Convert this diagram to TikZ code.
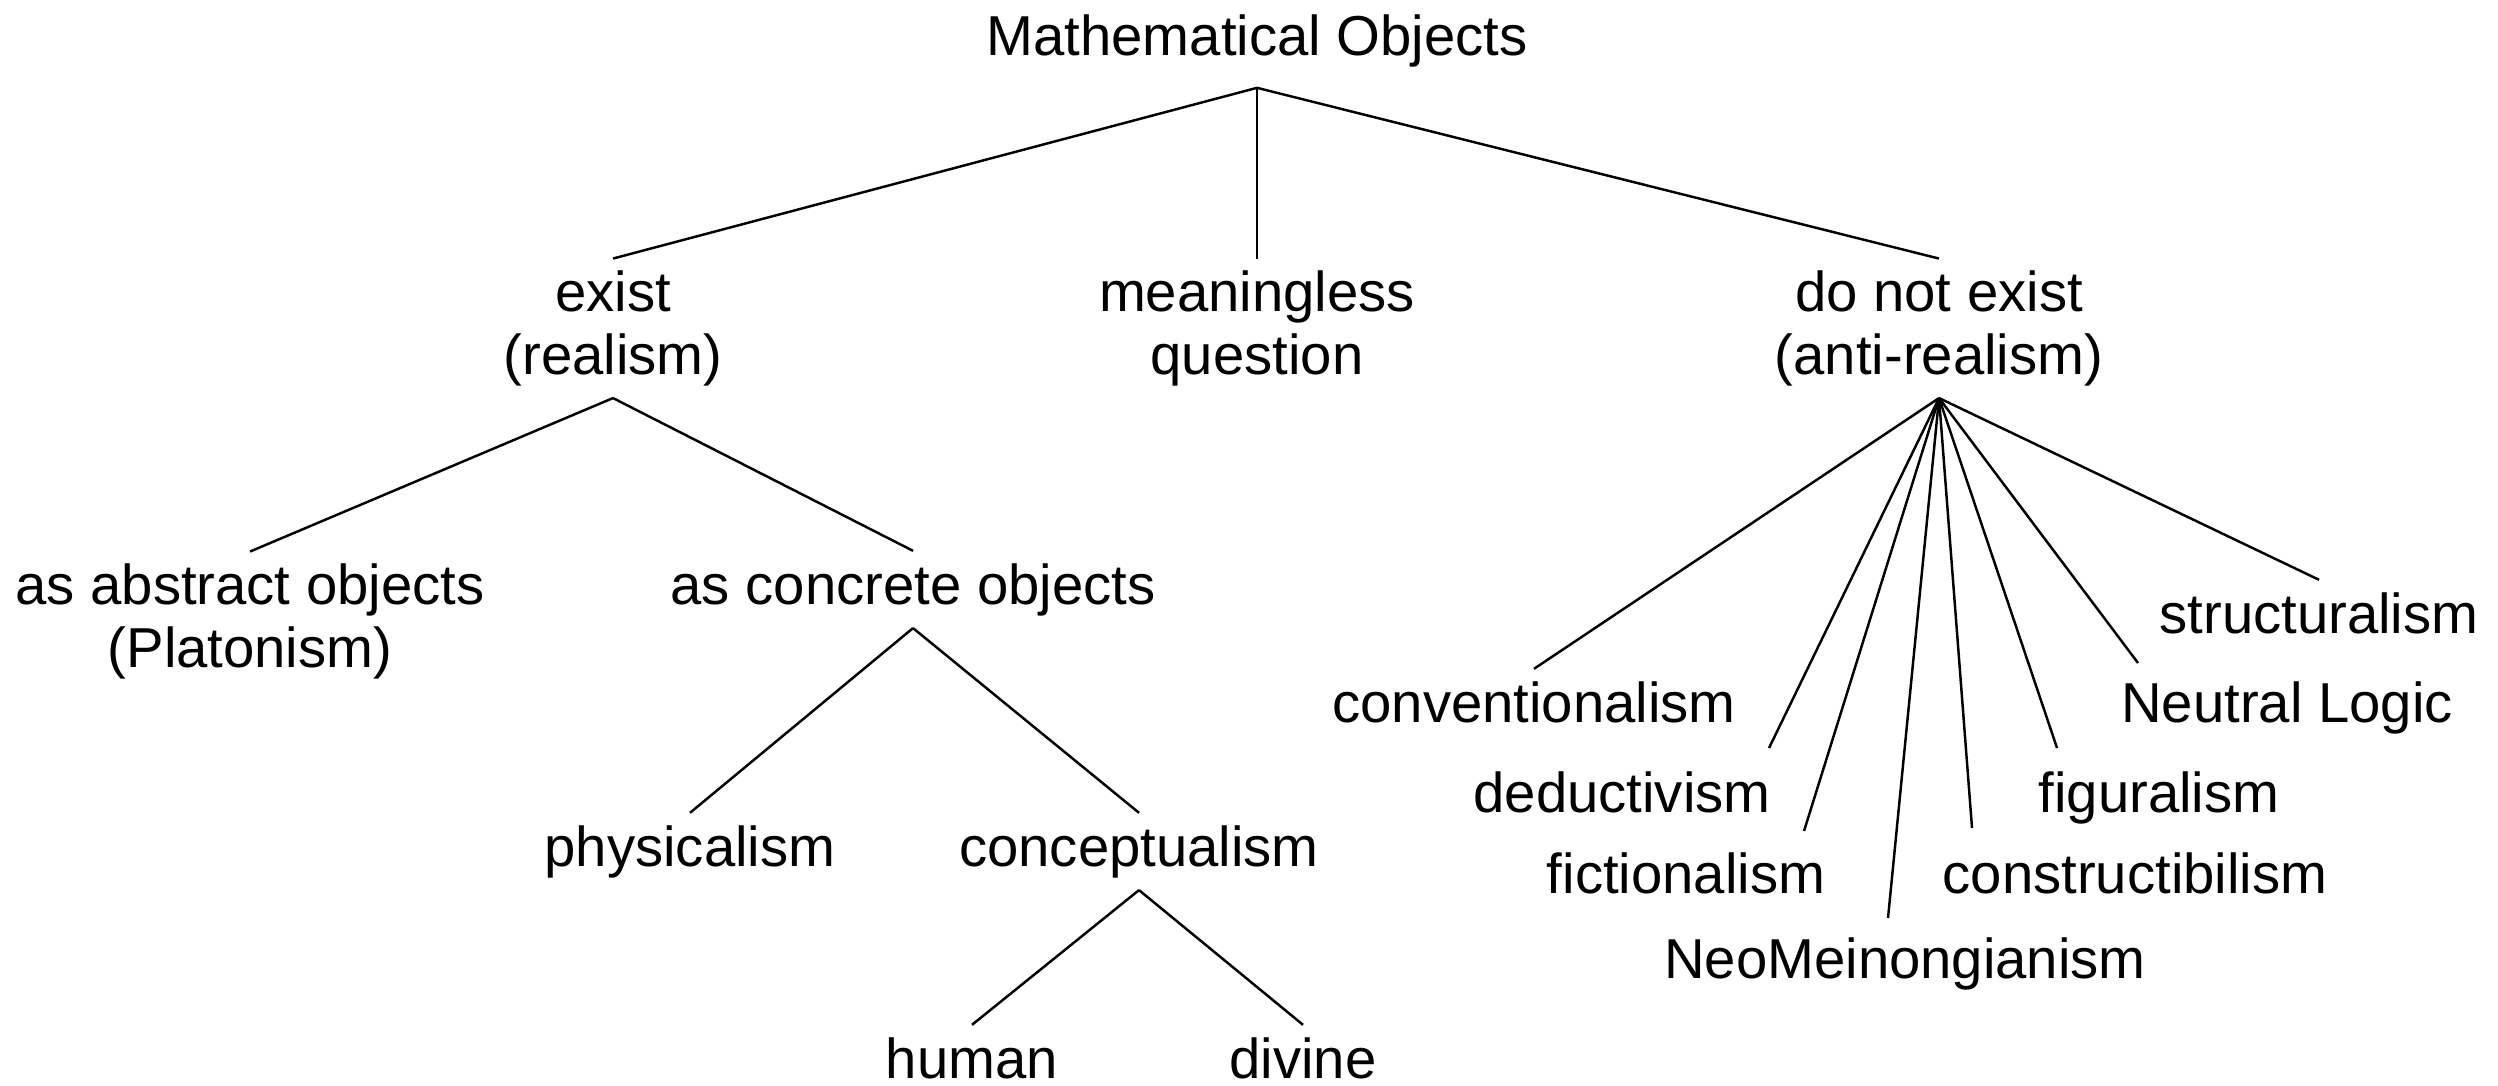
\documentclass[tikz,border=0pt]{standalone}
\usepackage{fontspec}
\setmainfont{Liberation Sans}
\begin{document}
\begin{tikzpicture}[x=0.01cm,y=-0.01cm,every node/.style={font=\fontsize{16}{17.7}\selectfont,align=center,anchor=base}]
 \useasboundingbox (0,0) rectangle (2498,1085);
 \node (math) at (1257,56) {Mathematical Objects};
 \node (exist) at (613,374) {exist\\(realism)};
 \node (meaningless) at (1257,374) {meaningless\\question};
 \node (notexist) at (1939,374) {do not exist\\(anti-realism)};
 \node (abstract) at (250,667) {as abstract objects\\(Platonism)};
 \node (concrete) at (913,604) {as concrete objects};
 \node (physical) at (690,866) {physicalism};
 \node (concept) at (1139,866) {conceptualism};
 \node (human) at (972,1078) {human};
 \node (divine) at (1303,1078) {divine};
 \node (conv) at (1534,722) {conventionalism};
 \node (deduct) at (1622,812) {deductivism};
 \node (fiction) at (1686,893) {fictionalism};
 \node (neo) at (1905,978) {NeoMeinongianism};
 \node (construct) at (2135,893) {constructibilism};
 \node (figural) at (2159,812) {figuralism};
 \node (neutral) at (2287,722) {Neutral Logic};
 \node (struct) at (2319,633) {structuralism};
 \coordinate (mathFoot) at ([yshift=-2.2pt]math.south);
 \coordinate (deductTip) at (1769,748); \coordinate (fictionTip) at (1804,831);
 \coordinate (neoTip) at (1888,918); \coordinate (constructTip) at (1972,828);
 \coordinate (figuralTip) at (2057,748); \coordinate (neutralTip) at (2138,663);
 \draw[line width=.7pt] (mathFoot)--(exist.north);
 \draw[line width=.7pt] (mathFoot)--(meaningless.north);
 \draw[line width=.7pt] (mathFoot)--(notexist.north);
 \draw[line width=.7pt] (exist.south)--(abstract.north);
 \draw[line width=.7pt] (exist.south)--(concrete.north);
 \draw[line width=.7pt] (concrete.south)--(physical.north);
 \draw[line width=.7pt] (concrete.south)--(concept.north);
 \draw[line width=.7pt] (concept.south)--(human.north);
 \draw[line width=.7pt] (concept.south)--(divine.north);
 \draw[line width=.7pt] (notexist.south)--(conv.north);
 \draw[line width=.7pt] (notexist.south)--(deductTip);
 \draw[line width=.7pt] (notexist.south)--(fictionTip);
 \draw[line width=.7pt] (notexist.south)--(neoTip);
 \draw[line width=.7pt] (notexist.south)--(constructTip);
 \draw[line width=.7pt] (notexist.south)--(figuralTip);
 \draw[line width=.7pt] (notexist.south)--(neutralTip);
 \draw[line width=.7pt] (notexist.south)--(struct.north);
\end{tikzpicture}
\end{document}
